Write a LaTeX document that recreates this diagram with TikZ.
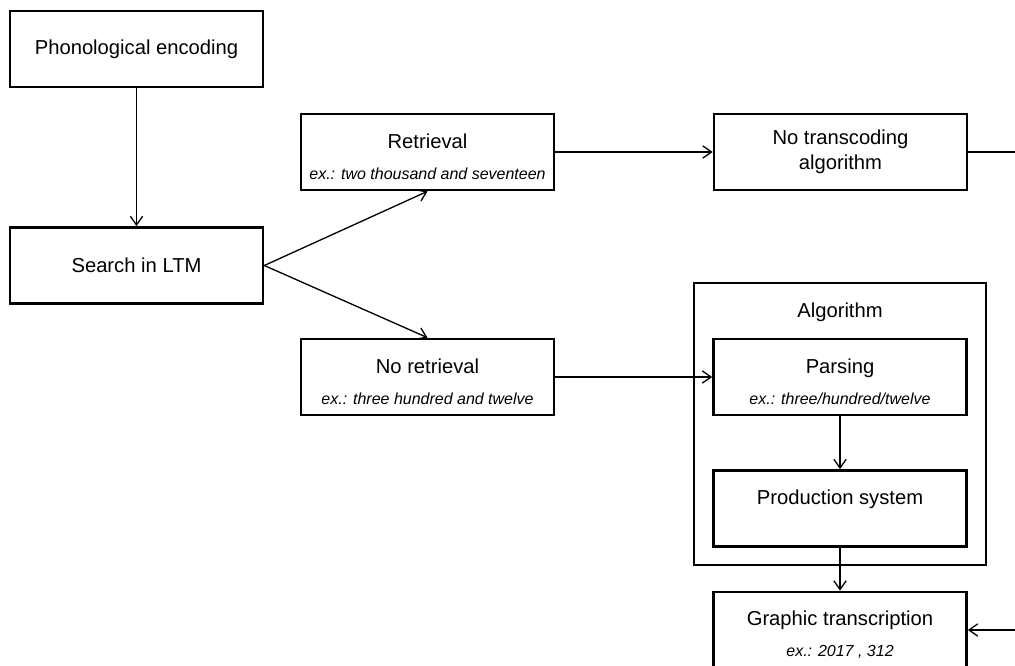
\documentclass[tikz,border=0pt]{standalone}
\usepackage{fontspec}
\setmainfont{Liberation Sans}
\usepackage{tikz}
\usepackage{xcolor}
\usetikzlibrary{arrows.meta}
\newcommand{\stagetitle}[1]{\rule{0pt}{13.7pt}#1}
\newcommand{\exline}[1]{{\fontsize{9.1}{11}\selectfont\itshape #1}}

\begin{document}
\begin{tikzpicture}[stagebox/.style={draw,line width=1.5pt,minimum width=5.06cm,minimum height=1.52cm,align=center,font=\fontsize{11.5}{14}\selectfont},
  flow/.style={-{Straight Barb[length=5pt,width=7pt]},line width=0.75pt}]
\useasboundingbox (0,0) rectangle (20.3,13.3);
\clip (0,0) rectangle (20.3,13.3);
\node [draw,line width=1.5pt,minimum width=5.84cm,minimum height=5.64cm] (algorithm) at (16.8,4.82) {};
\node [font=\fontsize{11.5}{14}\selectfont] (algolabel) at (16.8,7.06) {Algorithm};
\node [stagebox] (phono) at (2.73,12.32) {Phonological encoding};
\node [stagebox] (search) at (2.73,7.99) {Search in LTM};
\node [stagebox] (retrieval) at (8.55,10.26) {\stagetitle{Retrieval}\\[3.6pt]\exline{ex.: two thousand and seventeen}};
\node [stagebox] (noretrieval) at (8.55,5.76) {\stagetitle{No retrieval}\\[3.6pt]\exline{ex.: three hundred and twelve}};
\node [stagebox] (notranscoding) at (16.81,10.26) {No transcoding\\algorithm};
\node [stagebox] (parsing) at (16.8,5.76) {\stagetitle{Parsing}\\[3.6pt]\exline{ex.: three/hundred/twelve}};
\node [stagebox] (production) at (16.8,3.13) {\stagetitle{Production system}\\[3.6pt]\exline{\vphantom{thd}}};
\node [stagebox] (graphic) at (16.8,0.70) {\stagetitle{Graphic transcription}\\[3.6pt]\exline{ex.: 2017 , 312}};
\coordinate (backline) at (20.34,0);
  \foreach \from/\to in {phono.south/search.north,search.east/retrieval.south,search.east/noretrieval.north,retrieval.east/notranscoding.west,noretrieval.east/parsing.west,parsing.south/production.north,production.south/graphic.north}
  {  \draw [flow] (\from) -- (\to);}
\draw [flow] (notranscoding.east) -- (notranscoding.east -| backline) |- (graphic.east);
\end{tikzpicture}
\end{document}
